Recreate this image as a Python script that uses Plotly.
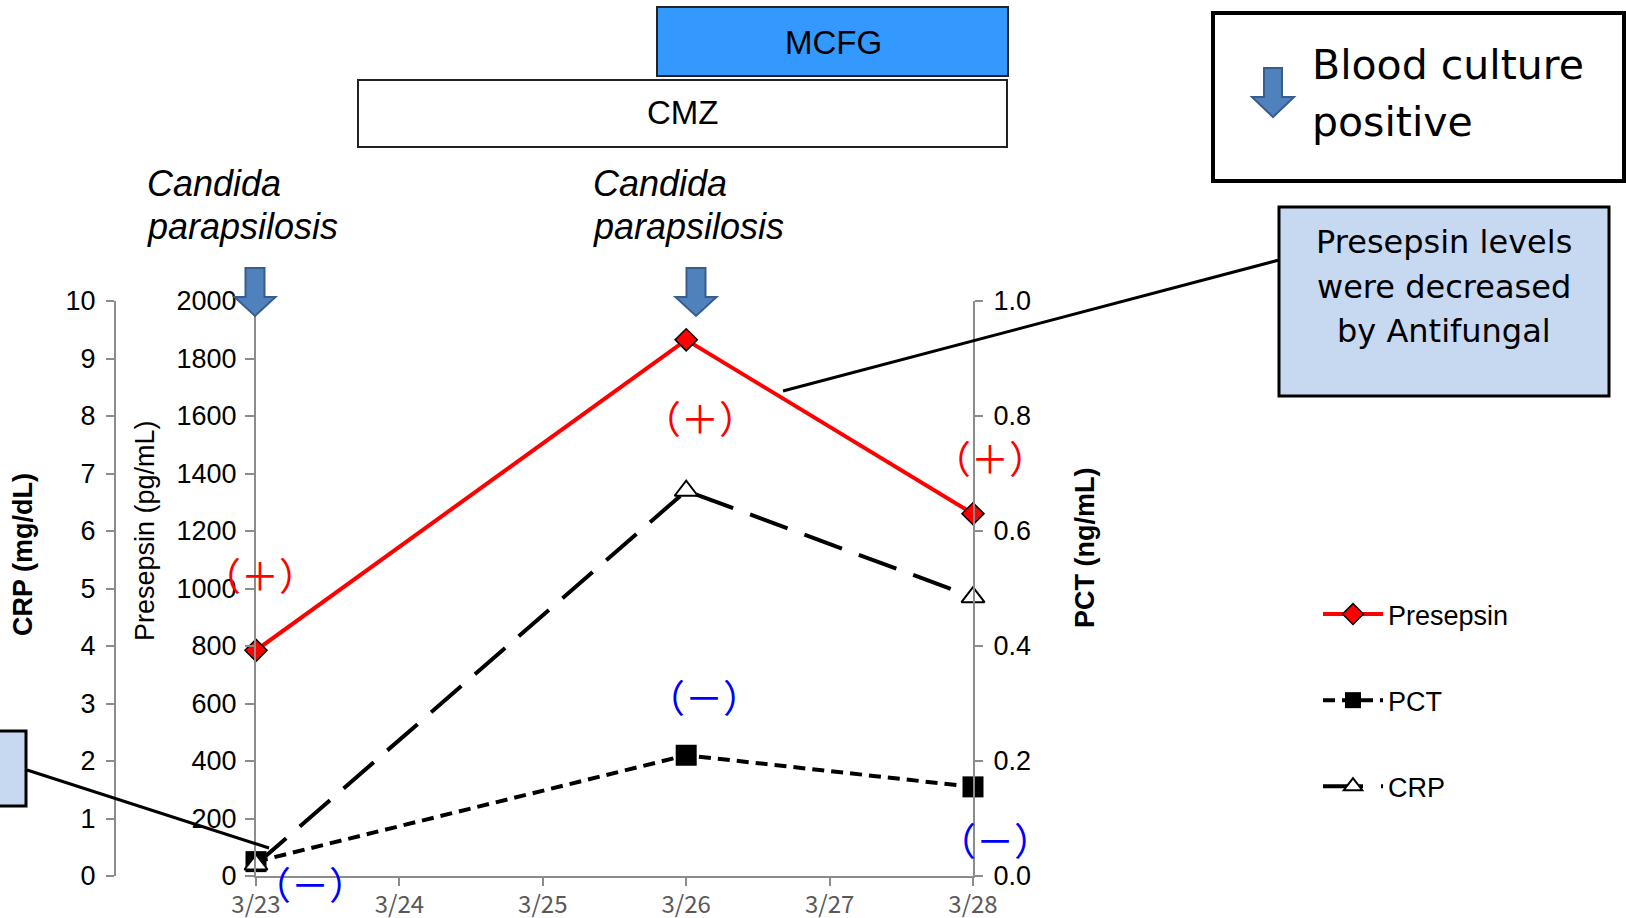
import plotly.graph_objects as go

# ---- data -------------------------------------------------------------
dates = ["3/23", "3/24", "3/25", "3/26", "3/27", "3/28"]
sample_dates = ["3/23", "3/26", "3/28"]
presepsin = [785, 1865, 1260]        # pg/mL
pct = [0.025, 0.21, 0.155]           # ng/mL
crp = [0.2, 6.7, 4.85]               # mg/dL

culture_marks = ["（＋）", "（＋）", "（＋）"]
culture_neg = ["（－）", "（－）", "（－）"]

# ---- canvas geometry (pixels) ------------------------------------------
W, H = 1626, 918
L, R, T, B = 115, 973, 301, 876   # plotting region incl. the free CRP axis


def px(x):
    return (x - L) / (R - L)


def py(y):
    return (B - y) / (B - T)


TICK_FONT = dict(family="Liberation Sans, Arial", size=27, color="black")
AXIS_COL = "#8c8c8c"

fig = go.Figure()

fig.add_trace(go.Scatter(
    x=sample_dates, y=presepsin, name="Presepsin", legendgroup="a",
    mode="lines+markers", cliponaxis=False,
    line=dict(color="#ff0000", width=4),
    marker=dict(symbol="diamond", size=17, color="#ff0000",
                line=dict(color="black", width=1.5)),
))
fig.add_trace(go.Scatter(
    x=sample_dates, y=pct, name="PCT", legendgroup="b", yaxis="y2",
    mode="lines+markers", cliponaxis=False,
    line=dict(color="black", width=4, dash="12px,7px"),
    marker=dict(symbol="square", size=21, color="black"),
))
fig.add_trace(go.Scatter(
    x=sample_dates, y=crp, name="CRP", legendgroup="c", yaxis="y3",
    mode="lines+markers", cliponaxis=False,
    line=dict(color="black", width=4, dash="40px,18px"),
    marker=dict(symbol="triangle-up", size=20, color="white",
                line=dict(color="black", width=2)),
))

fig.update_layout(
    width=W, height=H,
    margin=dict(l=L, r=W - R, t=T, b=H - B, pad=0, autoexpand=False),
    paper_bgcolor="white", plot_bgcolor="white",
    showlegend=True,
    legend=dict(x=px(1318), y=py(590), xanchor="left", yanchor="top",
                font=dict(family="Liberation Sans, Arial", size=27, color="black"),
                tracegroupgap=48, traceorder="grouped", itemwidth=60,
                bgcolor="rgba(0,0,0,0)"),
    xaxis=dict(
        type="category", categoryorder="array", categoryarray=dates,
        range=[0, 5], domain=[px(256), 1], automargin=False,
        showline=True, linecolor=AXIS_COL, linewidth=2,
        ticks="outside", ticklen=8, tickcolor=AXIS_COL, tickwidth=2,
        showgrid=False, zeroline=False,
        tickfont=dict(family="Noto Sans CJK JP", size=24, color="#595959"),
        ticklabelstandoff=-2,
    ),
    yaxis=dict(
        range=[0, 2000], dtick=200, anchor="x", automargin=False,
        showline=True, linecolor=AXIS_COL, linewidth=2,
        ticks="outside", ticklen=9, tickcolor=AXIS_COL, tickwidth=2,
        showgrid=False, zeroline=False, tickfont=TICK_FONT,
        ticklabelstandoff=3,
    ),
    yaxis2=dict(
        range=[0, 1], dtick=0.2, tickformat=".1f", overlaying="y",
        side="right", anchor="x", automargin=False,
        showline=True, linecolor=AXIS_COL, linewidth=2,
        ticks="outside", ticklen=8, tickcolor=AXIS_COL, tickwidth=2,
        showgrid=False, zeroline=False, tickfont=TICK_FONT,
        ticklabelstandoff=5,
    ),
    yaxis3=dict(
        range=[0, 10], dtick=1, overlaying="y", side="left",
        anchor="free", position=0, automargin=False,
        showline=True, linecolor=AXIS_COL, linewidth=2,
        ticks="outside", ticklen=8, tickcolor=AXIS_COL, tickwidth=2,
        showgrid=False, zeroline=False, tickfont=TICK_FONT,
        ticklabelstandoff=5,
    ),
)

shapes = []
ann = []


def rect(x0, y0, x1, y1, fill, lw, lc="black"):
    shapes.append(dict(type="rect", xref="paper", yref="paper",
                       x0=px(x0), x1=px(x1), y0=py(y0), y1=py(y1),
                       fillcolor=fill, line=dict(color=lc, width=lw),
                       layer="above"))


def seg(x0, y0, x1, y1, lw=3):
    shapes.append(dict(type="line", xref="paper", yref="paper",
                       x0=px(x0), x1=px(x1), y0=py(y0), y1=py(y1),
                       line=dict(color="black", width=lw), layer="above"))


def down_arrow(cx, top=268, neck=297, tip=316, sw=19, hw=41):
    pts = [(cx - sw / 2, top), (cx + sw / 2, top), (cx + sw / 2, neck),
           (cx + hw / 2, neck), (cx, tip), (cx - hw / 2, neck),
           (cx - sw / 2, neck)]
    d = "M " + " L ".join(f"{px(a):.5f},{py(b):.5f}" for a, b in pts) + " Z"
    shapes.append(dict(type="path", xref="paper", yref="paper", path=d,
                       fillcolor="#4f81bd", line=dict(color="#385d8a", width=2),
                       layer="above"))


def text(x, y, s, size, family, color="black", xanchor="center",
         italic=False, bold=False, angle=0):
    if bold:
        s = f"<b>{s}</b>"
    if italic:
        s = f"<i>{s}</i>"
    ann.append(dict(xref="paper", yref="paper", x=px(x), y=py(y), text=s,
                    showarrow=False, xanchor=xanchor, yanchor="middle",
                    textangle=angle,
                    font=dict(family=family, size=size, color=color)))


# treatment bars
rect(657, 7, 1008, 76, "#3399ff", 2, "#222222")
rect(358, 80, 1007, 147, "white", 2, "#222222")
NARROW = "Liberation Sans Narrow, Arial Narrow, Liberation Sans"
text(833, 42, "MCFG", 33, NARROW)
text(682, 112, "CMZ", 33, NARROW)

# organism labels
for x0 in (145, 591):
    text(x0, 183, "Candida", 36, NARROW, xanchor="left", italic=True)
    text(x0, 227, "parapsilosis", 36, NARROW, xanchor="left", italic=True)

# blood-culture arrows
down_arrow(255)
down_arrow(696)

# key box for the arrow symbol
rect(1213, 13, 1624, 181, "white", 4)
down_arrow(1273, top=68, neck=97, tip=117, sw=18, hw=42)
text(1310, 65, "Blood culture", 41, "DejaVu Sans", xanchor="left")
text(1310, 122, "positive", 41, "DejaVu Sans", xanchor="left")

# comment box with connector
seg(1279, 260, 783, 391)
rect(1279, 207, 1609, 396, "#c6d9f1", 3)
for yy, s in ((242, "Presepsin levels"), (287, "were decreased"),
              (331, "by Antifungal")):
    text(1444, yy, s, 32, "DejaVu Sans")

# partially visible box on the left edge with connector
seg(27, 770, 269, 848)
rect(-6, 731, 26, 806, "#c6d9f1", 3)

# culture result marks
for (xx, yy), s in zip(((260, 573), (700, 416), (990, 456)), culture_marks):
    text(xx, yy, s, 38, "Noto Sans CJK JP", color="#ff0000")
for (xx, yy), s in zip(((310, 882), (704, 695), (995, 838)), culture_neg):
    text(xx, yy, s, 38, "Noto Sans CJK JP", color="#0000ff")

# axis titles
text(23, 555, "CRP (mg/dL)", 27, "Liberation Sans, Arial", bold=True, angle=-90)
text(145, 531, "Presepsin (pg/mL)", 27, "Liberation Sans, Arial", angle=-90)
text(1085, 548, "PCT (ng/mL)", 27, "Liberation Sans, Arial", bold=True, angle=-90)

fig.update_layout(shapes=shapes, annotations=ann)
fig.write_html("out.html")
